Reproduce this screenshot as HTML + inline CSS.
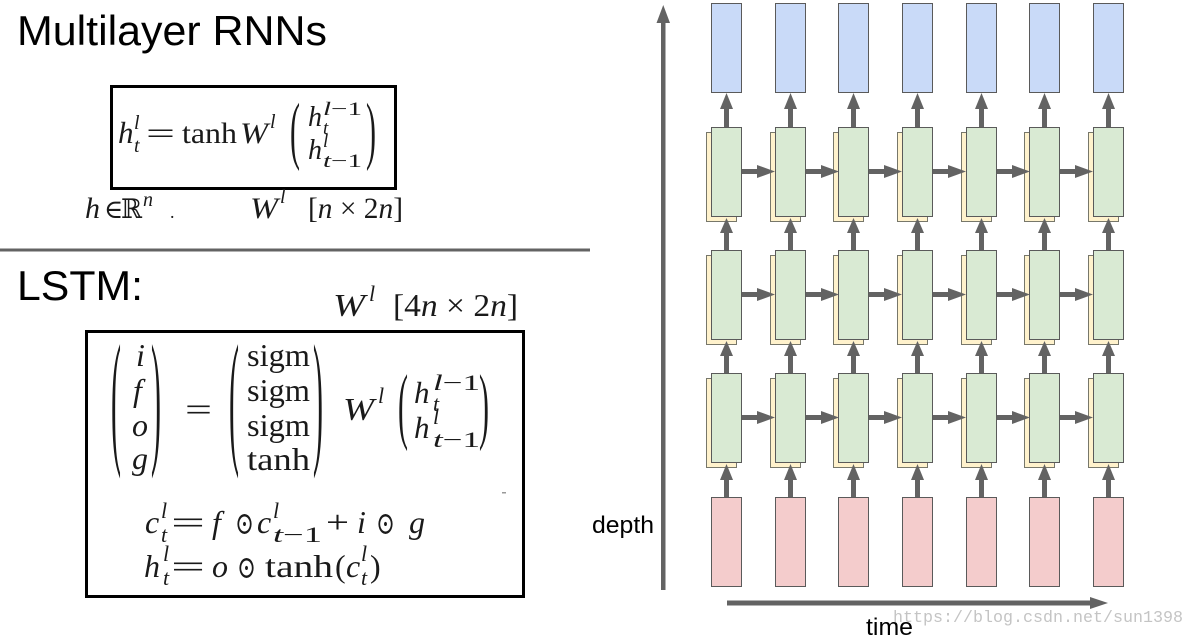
<!DOCTYPE html>
<html><head><meta charset="utf-8"><style>
html,body{margin:0;padding:0;background:#fff;}
svg{display:block;}
.s{font-family:"Liberation Sans",Arial,sans-serif;fill:#000;}
.m{font-family:"Liberation Serif","DejaVu Serif",serif;fill:#1a1a1a;}
.i{font-style:italic;}
.u{font-style:normal;}
</style></head><body>
<svg width="1195" height="636" viewBox="0 0 1195 636" xmlns="http://www.w3.org/2000/svg">
<rect width="1195" height="636" fill="#fff"/>
<defs>
<g id="col">
  <rect x="0.5" y="3.5" width="30" height="89" fill="#c9daf8" stroke="#5a5a5a"/>
  <rect x="-4.5" y="132.5" width="30" height="89" fill="#fff2cc" stroke="#77776a"/>
  <rect x="0.5" y="127.5" width="30" height="89" fill="#d9ead3" stroke="#5a5a5a"/>
  <rect x="-4.5" y="255.5" width="30" height="89" fill="#fff2cc" stroke="#77776a"/>
  <rect x="0.5" y="250.5" width="30" height="89" fill="#d9ead3" stroke="#5a5a5a"/>
  <rect x="-4.5" y="378.5" width="30" height="89" fill="#fff2cc" stroke="#77776a"/>
  <rect x="0.5" y="373.5" width="30" height="89" fill="#d9ead3" stroke="#5a5a5a"/>
  <rect x="0.5" y="497.5" width="30" height="89" fill="#f4cccc" stroke="#5a5a5a"/>
  <g fill="#636363">
    <rect x="13" y="107" width="5" height="20"/>
    <polygon points="15.5,93 22,109 9,109"/>
    <rect x="13" y="231" width="5" height="19"/>
    <polygon points="15.5,218 22,233 9,233"/>
    <rect x="13" y="354" width="5" height="19"/>
    <polygon points="15.5,341 22,356 9,356"/>
    <rect x="13" y="478" width="5" height="19"/>
    <polygon points="15.5,464 22,480 9,480"/>
  </g>
</g>
<g id="harr" fill="#636363">
  <rect x="31" y="169" width="16" height="5"/>
  <polygon points="46,165 64,171.5 46,178"/>
  <rect x="31" y="292" width="16" height="5"/>
  <polygon points="46,288 64,294.5 46,301"/>
  <rect x="31" y="415" width="16" height="5"/>
  <polygon points="46,411 64,417.5 46,424"/>
</g>
</defs>

<!-- left side -->
<text class="s" x="17" y="45" font-size="42" textLength="310" lengthAdjust="spacingAndGlyphs">Multilayer RNNs</text>

<rect x="111.5" y="86.5" width="284" height="102" fill="none" stroke="#000" stroke-width="3"/>
<text class="m i" x="118" y="143" font-size="31">h</text>
<text class="m i" x="134" y="129" font-size="20">l</text>
<text class="m i" x="134" y="152" font-size="20">t</text>
<text class="m" x="146" y="143" font-size="30" textLength="29" lengthAdjust="spacingAndGlyphs">=</text>
<text class="m" x="182" y="143" font-size="30" textLength="55" lengthAdjust="spacingAndGlyphs">tanh</text>
<text class="m i" x="240" y="143" font-size="30" textLength="28" lengthAdjust="spacingAndGlyphs">W</text>
<text class="m i" x="270" y="128" font-size="20">l</text>
<text class="m" font-size="30" transform="translate(290,155) scale(1,2.51)">(</text>
<text class="m i" x="308" y="126" font-size="28">h</text>
<text class="m i" x="323" y="115" font-size="19" textLength="39" lengthAdjust="spacingAndGlyphs">l<tspan class="u">−1</tspan></text>
<text class="m i" x="323" y="134" font-size="19">t</text>
<text class="m i" x="308" y="159" font-size="28">h</text>
<text class="m i" x="323" y="147" font-size="19">l</text>
<text class="m i" x="323" y="167" font-size="19" textLength="39" lengthAdjust="spacingAndGlyphs">t<tspan class="u">−1</tspan></text>
<text class="m" font-size="30" transform="translate(366,155) scale(1,2.51)">)</text>

<text class="m i" x="85" y="218" font-size="30">h</text>
<text class="m" x="104" y="218" font-size="26">∈</text>
<text class="m" x="121" y="218" font-size="27" textLength="21" lengthAdjust="spacingAndGlyphs">ℝ</text>
<text class="m i" x="143" y="206" font-size="20">n</text>
<text class="m" x="170" y="218" font-size="18">.</text>
<text class="m i" x="250" y="218" font-size="30" textLength="28" lengthAdjust="spacingAndGlyphs">W</text>
<text class="m i" x="280" y="203" font-size="20">l</text>
<text class="m" x="308" y="218" font-size="30" textLength="95" lengthAdjust="spacingAndGlyphs">[<tspan class="i">n</tspan> × 2<tspan class="i">n</tspan>]</text>

<rect x="0" y="248.5" width="590" height="3" fill="#636363"/>

<text class="s" x="17" y="300" font-size="42" textLength="126" lengthAdjust="spacingAndGlyphs">LSTM:</text>

<text class="m i" x="333" y="316" font-size="32" textLength="32" lengthAdjust="spacingAndGlyphs">W</text>
<text class="m i" x="369" y="301" font-size="22">l</text>
<text class="m" x="393" y="316" font-size="32" textLength="125" lengthAdjust="spacingAndGlyphs">[4<tspan class="i">n</tspan> × 2<tspan class="i">n</tspan>]</text>

<rect x="86.5" y="331.5" width="437" height="265" fill="none" stroke="#000" stroke-width="3"/>

<text class="m" font-size="30" transform="translate(111,447) scale(1,4.94)">(</text>
<text class="m i" x="136" y="366" font-size="32">i</text>
<text class="m i" x="133" y="401" font-size="32">f</text>
<text class="m i" x="132" y="436" font-size="32">o</text>
<text class="m i" x="132" y="469" font-size="32">g</text>
<text class="m" font-size="30" transform="translate(151,447) scale(1,4.94)">)</text>
<text class="m" x="185" y="420" font-size="32" textLength="27" lengthAdjust="spacingAndGlyphs">=</text>
<text class="m" font-size="30" transform="translate(229,447) scale(1,4.94)">(</text>
<text class="m" x="247" y="366" font-size="32" textLength="63" lengthAdjust="spacingAndGlyphs">sigm</text>
<text class="m" x="247" y="401" font-size="32" textLength="63" lengthAdjust="spacingAndGlyphs">sigm</text>
<text class="m" x="247" y="436" font-size="32" textLength="63" lengthAdjust="spacingAndGlyphs">sigm</text>
<text class="m" x="247" y="470" font-size="32" textLength="63" lengthAdjust="spacingAndGlyphs">tanh</text>
<text class="m" font-size="30" transform="translate(313,447) scale(1,4.94)">)</text>
<text class="m i" x="343" y="420" font-size="32" textLength="31" lengthAdjust="spacingAndGlyphs">W</text>
<text class="m i" x="378" y="403" font-size="22">l</text>
<text class="m" font-size="30" transform="translate(398,433) scale(1,2.81)">(</text>
<text class="m i" x="414" y="403" font-size="31">h</text>
<text class="m i" x="433" y="390" font-size="22" textLength="47" lengthAdjust="spacingAndGlyphs">l<tspan class="u">−1</tspan></text>
<text class="m i" x="433" y="411" font-size="22">t</text>
<text class="m i" x="414" y="438" font-size="31">h</text>
<text class="m i" x="433" y="424" font-size="22">l</text>
<text class="m i" x="433" y="447" font-size="22" textLength="47" lengthAdjust="spacingAndGlyphs">t<tspan class="u">−1</tspan></text>
<text class="m" font-size="30" transform="translate(479,433) scale(1,2.81)">)</text>
<rect x="502" y="492" width="4" height="1.5" fill="#999"/>

<text class="m i" x="145" y="533" font-size="32">c</text>
<text class="m i" x="161" y="518" font-size="22">l</text>
<text class="m i" x="161" y="542" font-size="22">t</text>
<text class="m" x="171" y="533" font-size="32" textLength="34" lengthAdjust="spacingAndGlyphs">=</text>
<text class="m i" x="212" y="533" font-size="32">f</text>
<text class="m" x="235" y="534" font-size="32" textLength="19" lengthAdjust="spacingAndGlyphs">⊙</text>
<text class="m i" x="257" y="533" font-size="32">c</text>
<text class="m i" x="273" y="518" font-size="22">l</text>
<text class="m i" x="273" y="542" font-size="22" textLength="49" lengthAdjust="spacingAndGlyphs">t<tspan class="u">−1</tspan></text>
<text class="m" x="326" y="533" font-size="32" textLength="23" lengthAdjust="spacingAndGlyphs">+</text>
<text class="m i" x="357" y="533" font-size="32">i</text>
<text class="m" x="376" y="534" font-size="32" textLength="19" lengthAdjust="spacingAndGlyphs">⊙</text>
<text class="m i" x="409" y="533" font-size="32">g</text>

<text class="m i" x="144" y="577" font-size="32">h</text>
<text class="m i" x="163" y="561" font-size="22">l</text>
<text class="m i" x="163" y="585" font-size="22">t</text>
<text class="m" x="171" y="577" font-size="32" textLength="34" lengthAdjust="spacingAndGlyphs">=</text>
<text class="m i" x="212" y="577" font-size="32">o</text>
<text class="m" x="237" y="578" font-size="32" textLength="19" lengthAdjust="spacingAndGlyphs">⊙</text>
<text class="m" x="265" y="577" font-size="32" textLength="68" lengthAdjust="spacingAndGlyphs">tanh</text>
<text class="m" x="335" y="577" font-size="32">(</text>
<text class="m i" x="346" y="577" font-size="32">c</text>
<text class="m i" x="361" y="561" font-size="22">l</text>
<text class="m i" x="361" y="585" font-size="22">t</text>
<text class="m" x="370" y="577" font-size="32">)</text>

<!-- right diagram -->
<g fill="#636363">
  <rect x="661" y="20" width="4.5" height="570"/>
  <polygon points="663.25,5 670,23 656.5,23"/>
  <rect x="727" y="600.5" width="366" height="5"/>
  <polygon points="1090,597 1108,603 1090,609"/>
</g>

<use href="#col" x="711"/>
<use href="#col" x="775"/>
<use href="#col" x="838"/>
<use href="#col" x="902"/>
<use href="#col" x="966"/>
<use href="#col" x="1029"/>
<use href="#col" x="1093"/>
<use href="#harr" x="711"/>
<use href="#harr" x="775"/>
<use href="#harr" x="838"/>
<use href="#harr" x="902"/>
<use href="#harr" x="966"/>
<use href="#harr" x="1029"/>

<text x="893" y="622" font-family="Liberation Mono, monospace" font-size="17" fill="#c4c4c4" textLength="290" lengthAdjust="spacingAndGlyphs">https://blog.csdn.net/sun1398</text>
<text class="s" x="592" y="533" font-size="24" textLength="62" lengthAdjust="spacingAndGlyphs">depth</text>
<text class="s" x="866" y="635" font-size="24" textLength="47" lengthAdjust="spacingAndGlyphs">time</text>
</svg>
</body></html>
